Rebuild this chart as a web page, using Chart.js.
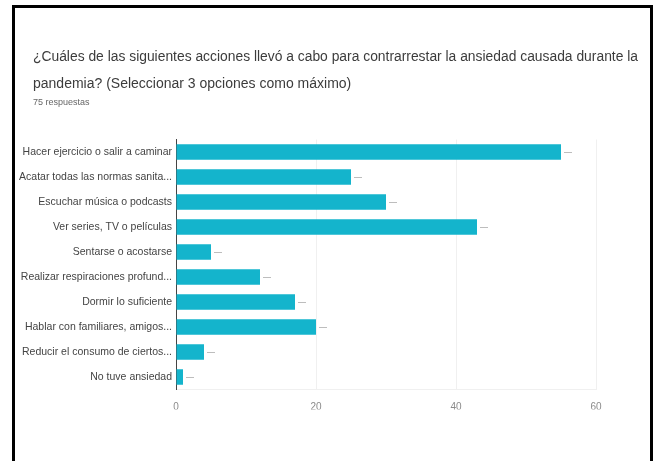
<!DOCTYPE html>
<html>
<head>
<meta charset="utf-8">
<script src="https://cdn.jsdelivr.net/npm/chart.js@4"></script>
<style>
  html, body { margin: 0; padding: 0; background: #fff; overflow: hidden; }
  #wrap { position: relative; width: 659px; height: 461px; }
  #frame {
    position: absolute; left: 12px; top: 5px; width: 641px; height: 520px;
    border: 3px solid #000; box-sizing: border-box; pointer-events: none;
  }
  canvas { position: absolute; left: 0; top: 0; }
</style>
</head>
<body>
<div id="wrap">
  <canvas id="c" width="659" height="461"></canvas>
  <div id="frame"></div>
</div>
<script>
const titleLines = [
  "¿Cuáles de las siguientes acciones llevó a cabo para contrarrestar la ansiedad causada durante la",
  "pandemia? (Seleccionar 3 opciones como máximo)"
];
const responseCount = "75 respuestas";

const categories = [
  "Hacer ejercicio o salir a caminar",
  "Acatar todas las normas sanita...",
  "Escuchar música o podcasts",
  "Ver series, TV o películas",
  "Sentarse o acostarse",
  "Realizar respiraciones profund...",
  "Dormir lo suficiente",
  "Hablar con familiares, amigos...",
  "Reducir el consumo de ciertos...",
  "No tuve ansiedad"
];
const responses = [55, 25, 30, 43, 5, 12, 17, 20, 4, 1];
const xTicks = [0, 20, 40, 60];

// Heading block drawn above the plot, squeezed horizontally to fit its line.
const header = {
  id: 'header',
  afterDraw(chart) {
    const ctx = chart.ctx;
    ctx.save();
    ctx.textBaseline = 'middle';
    ctx.textAlign = 'left';
    ctx.fillStyle = '#3c3c3c';
    ctx.font = '14px "Liberation Sans", Arial, sans-serif';
    ctx.fillText(titleLines[0], 33, 57, 605);
    ctx.fillText(titleLines[1], 33, 84, 324);
    ctx.fillStyle = '#666';
    ctx.font = '9px "Liberation Sans", Arial, sans-serif';
    ctx.fillText(responseCount, 33, 103, 60);
    ctx.restore();
  }
};

// Short grey marker just past the end of each bar.
const barTails = {
  id: 'barTails',
  afterDatasetsDraw(chart) {
    const ctx = chart.ctx;
    const meta = chart.getDatasetMeta(0);
    ctx.save();
    ctx.strokeStyle = '#bdbdbd';
    ctx.lineWidth = 1;
    meta.data.forEach(bar => {
      const x = bar.x + 3, y = Math.round(bar.y) + 0.5;
      ctx.beginPath();
      ctx.moveTo(x, y);
      ctx.lineTo(x + 8, y);
      ctx.stroke();
    });
    ctx.restore();
  }
};

new Chart(document.getElementById('c'), {
  type: 'bar',
  data: {
    labels: categories,
    datasets: [{
      data: responses,
      backgroundColor: '#14b4cc',
      borderWidth: 0,
      categoryPercentage: 1,
      barPercentage: 0.62
    }]
  },
  options: {
    indexAxis: 'y',
    responsive: false,
    animation: false,
    devicePixelRatio: 1,
    layout: { padding: { left: 0, top: 139.5, right: 63, bottom: 51.5 } },
    plugins: {
      legend: { display: false },
      tooltip: { enabled: false },
      title: { display: false }
    },
    scales: {
      x: {
        min: 0, max: 60,
        afterBuildTicks(scale) { scale.ticks = xTicks.map(v => ({ value: v })); },
        afterFit(scale) { scale.height = 20; },
        grid: { color: '#f0f0f0', drawTicks: false },
        border: { color: '#f0f0f0' },
        ticks: {
          padding: 12,
          color: '#8a8a8a',
          font: { family: '"Liberation Sans", Arial, sans-serif', size: 10 }
        }
      },
      y: {
        afterFit(scale) { scale.width = 176; },
        grid: { display: false, drawTicks: false },
        border: { color: '#444', width: 1 },
        ticks: {
          padding: 4,
          color: '#444',
          autoSkip: false,
          font: { family: '"Liberation Sans", Arial, sans-serif', size: 10.5 }
        }
      }
    }
  },
  plugins: [header, barTails]
});
</script>
</body>
</html>
